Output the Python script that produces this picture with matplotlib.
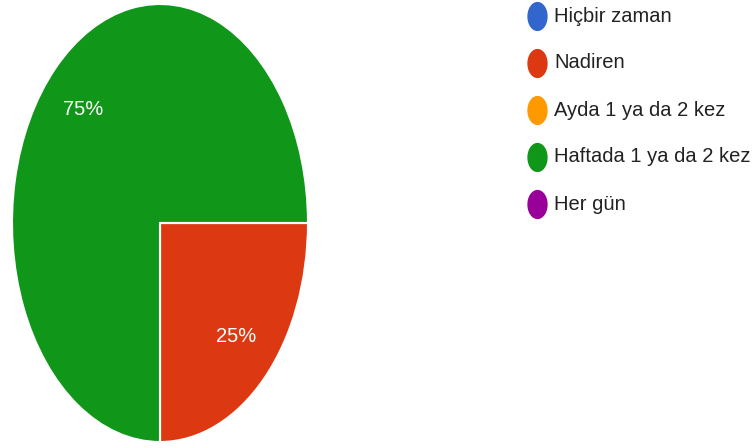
import matplotlib
matplotlib.use("Agg")
import matplotlib.pyplot as plt
from matplotlib.path import Path
import numpy as np

# ── Data ────────────────────────────────────────────────────────────────
labels = ["Hiçbir zaman", "Nadiren", "Ayda 1 ya da 2 kez",
          "Haftada 1 ya da 2 kez", "Her gün"]
values = [0, 1, 0, 3, 0]
colors = ["#3366cc", "#dc3912", "#ff9900", "#109618", "#990099"]

plt.rcParams["font.family"] = ["Liberation Sans", "DejaVu Sans"]

W, H = 755, 448
fig = plt.figure(figsize=(W / 100, H / 100), dpi=100)

# pie is horizontally squashed in the reference -> auto aspect axes
ax = fig.add_axes([12 / W, 6 / H, 296 / W, 438 / H])
wedges, texts, autotexts = ax.pie(
    values, colors=colors, startangle=0, counterclock=False,
    autopct=lambda p: f"{p:.0f}%" if p > 0 else "", pctdistance=0.73,
    wedgeprops=dict(edgecolor="white", linewidth=1.5),
    textprops=dict(color="white", fontsize=14.5),
)
ax.set_aspect("auto")
ax.set_xlim(-1.0, 1.0)
ax.set_ylim(-1.0, 1.0)
ax.axis("off")

# ── Legend (manual, squashed circle markers) ────────────────────────────
t = np.linspace(0, 2 * np.pi, 60)
oval = Path(np.column_stack([0.68 * np.cos(t), np.sin(t)]))

lax = fig.add_axes([0, 0, 1, 1])
lax.set_xlim(0, W)
lax.set_ylim(H, 0)
lax.axis("off")
for i, (lab, col) in enumerate(zip(labels, colors)):
    y = 16 + 47 * i
    lax.plot(537, y, marker=oval, markersize=20, color=col, linestyle="none")
    lax.text(554, y, lab, fontsize=14.5, color="#222222", va="center", ha="left")

fig.savefig("out.png", dpi=100)
plt.close(fig)
